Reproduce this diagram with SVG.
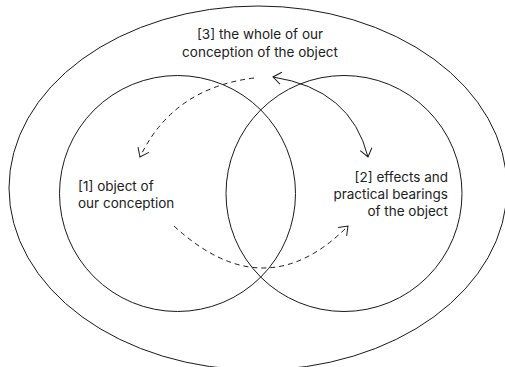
<svg xmlns="http://www.w3.org/2000/svg" width="505" height="367" viewBox="0 0 505 367">
<style>
  .shape { fill: none; stroke: #1a1a1a; stroke-width: 1; }
  .conn { fill: none; stroke: #1a1a1a; stroke-width: 1; }
  .dash { stroke-dasharray: 5 4; }
  .lbl { font-family: Inter, "Liberation Sans", sans-serif; font-size: 13.5px; fill: #222; }
</style>
<defs>
  <marker id="chev" viewBox="-10 -7 12 14" refX="0" refY="0" markerWidth="12" markerHeight="14" markerUnits="userSpaceOnUse" orient="auto-start-reverse">
    <path d="M-8,-6 L0,0 L-8,6" fill="none" stroke="#1a1a1a" stroke-width="1"/>
  </marker>
</defs>
<g id="whole">
  <ellipse class="shape" cx="258" cy="188" rx="249" ry="182"/>
  <text class="lbl" text-anchor="middle"><tspan x="260" y="39">[3] the whole of our</tspan><tspan x="260" y="56.5">conception of the object</tspan></text>
</g>
<g id="object">
  <circle class="shape" cx="177.5" cy="193.5" r="118"/>
  <text class="lbl"><tspan x="78" y="191">[1] object of</tspan><tspan x="78" y="208">our conception</tspan></text>
</g>
<g id="effects">
  <circle class="shape" cx="344" cy="193.5" r="118"/>
  <text class="lbl" text-anchor="end"><tspan x="448" y="182">[2] effects and</tspan><tspan x="448" y="199">practical bearings</tspan><tspan x="448" y="216">of the object</tspan></text>
</g>
<g id="connectors">
  <path class="conn dash" d="M254,78 Q173,88 140,157" marker-end="url(#chev)"/>
  <path class="conn" d="M273,77 Q351,89 368,157" marker-start="url(#chev)" marker-end="url(#chev)"/>
  <path class="conn dash" d="M174,226 Q265,310 348,226" marker-end="url(#chev)"/>
</g>
</svg>
